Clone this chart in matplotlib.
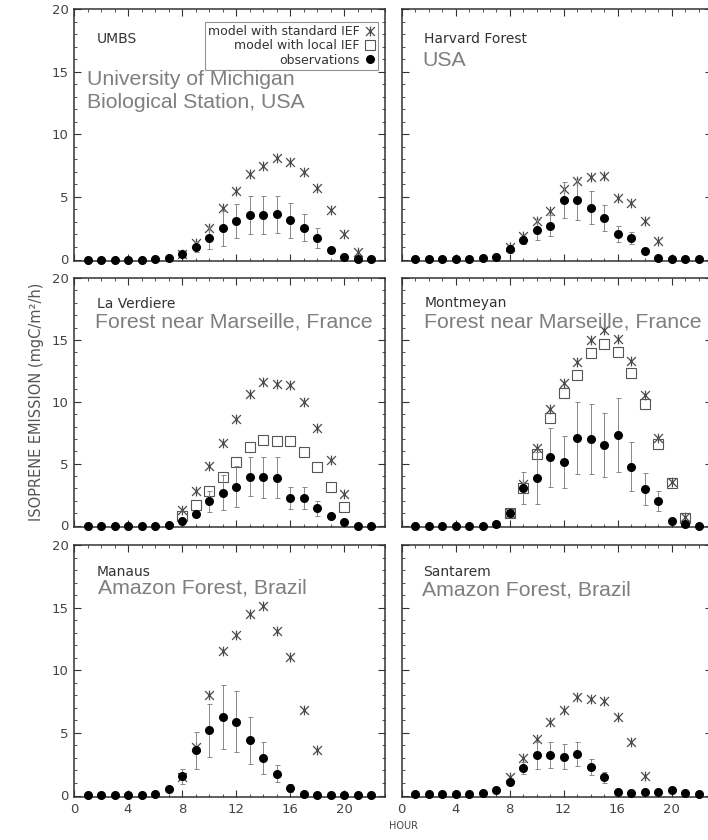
import matplotlib
matplotlib.use('Agg')
import matplotlib.pyplot as plt
from matplotlib.lines import Line2D
from matplotlib.path import Path
from matplotlib.ticker import MultipleLocator
import numpy as np

# hour of day, 1..22
hours = np.arange(1, 23)

# UMBS
umbs_std = [0, 0, 0, 0, 0, 0, 0, 0.4, 1.3, 2.5, 4.1, 5.5, 6.8, 7.5, 8.1, 7.75, 7.0, 5.7, 3.95, 2.0, 0.57, 0]
umbs_obs = [0, 0, 0, 0, 0, 0.05, 0.1, 0.4, 1.0, 1.7, 2.5, 3.1, 3.55, 3.55, 3.6, 3.15, 2.55, 1.7, 0.75, 0.2, 0.05, 0.05]
umbs_err = [0, 0, 0, 0, 0, 0, 0, 0.1, 0.4, 0.9, 1.4, 1.35, 1.5, 1.5, 1.5, 1.4, 1.1, 0.8, 0.2, 0, 0, 0]

# Harvard Forest
harv_std = [0, 0, 0, 0, 0, 0, 0, 1.0, 1.9, 3.1, 3.85, 5.65, 6.3, 6.55, 6.65, 4.95, 4.55, 3.1, 1.5, 0, 0, 0]
harv_obs = [0.05, 0.05, 0.05, 0.05, 0.05, 0.1, 0.18, 0.85, 1.55, 2.35, 2.7, 4.75, 4.75, 4.15, 3.3, 2.05, 1.7, 0.65, 0.1, 0.05, 0.05, 0.05]
harv_err = [0, 0, 0, 0, 0, 0, 0, 0.3, 0.3, 0.8, 0.85, 1.4, 1.6, 1.35, 1.05, 0.65, 0.5, 0, 0, 0, 0, 0]

# La Verdiere
verd_std = [0, 0, 0, 0, 0, 0, 0, 1.25, 2.75, 4.8, 6.65, 8.6, 10.65, 11.6, 11.4, 11.35, 9.95, 7.85, 5.3, 2.55, 0, 0]
verd_loc = [0, 0, 0, 0, 0, 0, 0, 0.75, 1.65, 2.8, 3.95, 5.1, 6.35, 6.9, 6.8, 6.8, 5.9, 4.7, 3.15, 1.5, 0, 0]
verd_obs = [0, 0, 0, 0, 0, 0, 0.05, 0.4, 0.95, 1.95, 2.65, 3.15, 3.95, 3.9, 3.85, 2.25, 2.2, 1.4, 0.8, 0.25, 0, 0]
verd_err = [0, 0, 0, 0, 0, 0, 0, 0.1, 0.3, 0.85, 1.4, 1.65, 1.6, 1.65, 1.65, 0.9, 0.9, 0.6, 0, 0, 0, 0]

# Montmeyan
mont_std = [0, 0, 0, 0, 0, 0, 0, 1.0, 3.35, 6.25, 9.4, 11.55, 13.2, 14.95, 15.8, 15.05, 13.3, 10.55, 7.05, 3.55, 0.7, 0]
mont_loc = [0, 0, 0, 0, 0, 0, 0, 1.0, 3.0, 5.75, 8.7, 10.7, 12.2, 13.9, 14.65, 14.0, 12.35, 9.8, 6.55, 3.45, 0.6, 0]
mont_obs = [0, 0, 0, 0, 0, 0, 0.1, 1.0, 3.0, 3.8, 5.5, 5.1, 7.1, 7.0, 6.5, 7.3, 4.75, 2.95, 1.95, 0.4, 0.1, 0]
mont_err = [0, 0, 0, 0, 0, 0, 0, 0.3, 1.3, 2.1, 2.35, 2.1, 2.9, 2.85, 2.6, 3.0, 2.0, 1.3, 0.8, 0, 0, 0]

# Manaus
mana_std = [0, 0, 0, 0, 0, 0, 0, 1.5, 3.9, 8.0, 11.5, 12.8, 14.5, 15.1, 13.15, 11.05, 6.85, 3.65, 0, 0, 0, 0]
mana_obs = [0.03, 0.03, 0.03, 0.03, 0.03, 0.08, 0.55, 1.55, 3.6, 5.2, 6.25, 5.9, 4.4, 3.0, 1.75, 0.6, 0.08, 0.03, 0.03, 0.05, 0.03, 0.03]
mana_err = [0, 0, 0, 0, 0, 0, 0.2, 0.6, 1.5, 2.1, 2.55, 2.45, 1.85, 1.25, 0.7, 0.3, 0, 0, 0, 0, 0, 0]

# Santarem
sant_std = [0, 0, 0, 0, 0, 0, 0, 1.5, 3.0, 4.5, 5.85, 6.8, 7.85, 7.7, 7.55, 6.3, 4.25, 1.55, 0, 0, 0, 0]
sant_obs = [0.1, 0.1, 0.1, 0.1, 0.1, 0.2, 0.4, 1.1, 2.2, 3.2, 3.25, 3.1, 3.3, 2.3, 1.45, 0.3, 0.2, 0.25, 0.3, 0.4, 0.2, 0.1]
sant_err = [0, 0, 0, 0, 0, 0, 0, 0.3, 0.45, 1.1, 1.05, 1.0, 0.95, 0.65, 0.45, 0, 0, 0, 0, 0, 0, 0]

site_names = ['UMBS', 'Harvard Forest', 'La Verdiere', 'Montmeyan', 'Manaus', 'Santarem']
site_notes = ['University of Michigan\nBiological Station, USA', 'USA',
              'Forest near Marseille, France', 'Forest near Marseille, France',
              'Amazon Forest, Brazil', 'Amazon Forest, Brazil']
legend_labels = ['model with standard IEF', 'model with local IEF', 'observations']

panels = [
    (umbs_std, None, umbs_obs, umbs_err),
    (harv_std, None, harv_obs, harv_err),
    (verd_std, verd_loc, verd_obs, verd_err),
    (mont_std, mont_loc, mont_obs, mont_err),
    (mana_std, None, mana_obs, mana_err),
    (sant_std, None, sant_obs, sant_err),
]

W, H = 708, 840
# IDL-like asterisk: an X with a vertical stroke
STAR = Path([(-1, -1), (1, 1), (-1, 1), (1, -1), (0, -1.1), (0, 1.1)],
            [Path.MOVETO, Path.LINETO, Path.MOVETO, Path.LINETO, Path.MOVETO, Path.LINETO])
star_kw = dict(ls='none', marker=STAR, ms=7, mec='#4a4a4a', mfc='none', mew=0.9)
sq_kw = dict(ls='none', marker='s', ms=6.5, mec='#555555', mfc='none', mew=0.8)
obs_kw = dict(ls='none', marker='o', ms=5.5, color='black')


def model_pts(vals):
    # model values at night are hidden under the observation dots
    v = np.asarray(vals, dtype=float)
    return np.where(v > 0, v, np.nan)


fig = plt.figure(figsize=(W / 100, H / 100), dpi=100)

col_x = [74, 401.5]
col_w = 310.5
row_top = [9, 278, 545]
row_h = [252, 249, 252]
# pixel offsets of the site name / note baselines from the axes top-left
name_pos = [(23, 34), (23, 34), (23, 30), (23, 29), (23, 31), (22, 31)]
note_pos = [(13, 76), (21, 57), (21, 50), (23, 50), (24, 49), (20, 50)]

axes = []
for i, (std, loc, obs, err) in enumerate(panels):
    r, c = divmod(i, 2)
    x0, top, h = col_x[c], row_top[r], row_h[r]
    ax = fig.add_axes([x0 / W, 1 - (top + h) / H, col_w / W, h / H])
    axes.append(ax)

    ax.plot(hours, model_pts(std), clip_on=False, zorder=3, **star_kw)
    if loc is not None:
        ax.plot(hours, model_pts(loc), clip_on=False, zorder=3, **sq_kw)
    ax.errorbar(hours, obs, yerr=err, ecolor='#888888', elinewidth=0.7,
                capsize=1.8, capthick=0.7, clip_on=False, zorder=4, **obs_kw)

    ax.set_xlim(0, 23)
    ax.set_ylim(-20 * 1.5 / (h - 1.5), 20)
    ax.xaxis.set_major_locator(MultipleLocator(4))
    ax.xaxis.set_minor_locator(MultipleLocator(1))
    ax.yaxis.set_major_locator(MultipleLocator(5))
    ax.yaxis.set_minor_locator(MultipleLocator(1))
    ax.tick_params(which='both', direction='in', top=True, right=True,
                   color='#333333', labelsize=9.5, labelcolor='#444444')
    ax.tick_params(which='major', length=5, width=0.8, pad=4)
    ax.tick_params(which='minor', length=2.5, width=0.6)
    for sp in ax.spines.values():
        sp.set_color('#333333')
        sp.set_linewidth(1.1)
    if c == 1:
        ax.tick_params(labelleft=False)
    if r < 2:
        ax.tick_params(labelbottom=False)

    nx, ny = name_pos[i]
    fig.text((x0 + nx) / W, 1 - (top + ny) / H, site_names[i], fontsize=10,
             color='#333333', va='baseline', ha='left')
    tx, ty = note_pos[i]
    for k, line in enumerate(site_notes[i].split('\n')):
        fig.text((x0 + tx) / W, 1 - (top + ty + 23 * k) / H, line, fontsize=15.3,
                 family='Liberation Sans', color='#7f7f7f', va='baseline', ha='left')

handles = [Line2D([], [], **star_kw), Line2D([], [], **sq_kw), Line2D([], [], **obs_kw)]
leg = axes[0].legend(handles, legend_labels, loc='upper right', bbox_to_anchor=(0.979, 0.948),
                     borderaxespad=0, markerfirst=False, fontsize=9, frameon=True,
                     fancybox=False, edgecolor='#777777', handlelength=0.8,
                     handletextpad=0.4, labelspacing=0.1, borderpad=0.25)
leg.get_frame().set_linewidth(0.8)
leg.set_zorder(2)
for t in leg.get_texts():
    t.set_color('#333333')

fig.text(37 / W, 1 - 402 / H, 'ISOPRENE EMISSION (mgC/m\u00b2/h)', rotation=90,
         fontsize=10.5, color='#555555', ha='center', va='center')
fig.text(403 / W, 1 - 826 / H, 'HOUR', fontsize=7, color='#444444', ha='center', va='center')

plt.savefig('out.png', dpi=100)
plt.close()
